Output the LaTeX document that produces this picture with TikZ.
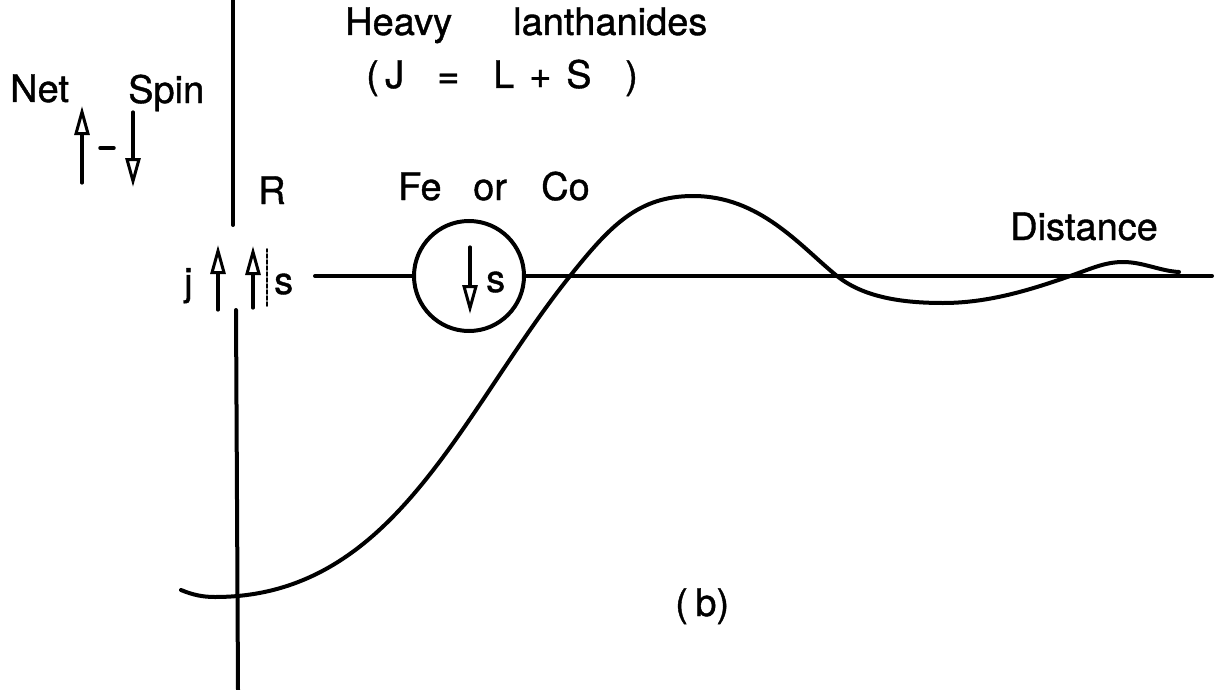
\documentclass[tikz,border=0pt]{standalone}
\usepackage{fontspec}
\setmainfont{TeX Gyre Heros}
\newfontfamily\lettering{TeX Gyre Heros}[FakeBold=1]
\usetikzlibrary{arrows.meta}
\begin{document}
\begin{tikzpicture}[x=1pt,y=-1pt,line cap=round,
  ln/.style={line width=4pt},
  spinarrow/.style={line width=3.2pt,-{Triangle[open,length=29pt,width=15pt,line width=3pt]}},
  lbl/.style={font=\lettering\fontsize{38}{44}\selectfont,inner sep=0pt,anchor=base west}]
\useasboundingbox (0,0) rectangle (1217,690);
% axis
\coordinate (ax1) at (233,0);
\coordinate (ax2) at (233,225);
\coordinate (ax3) at (236,310);
\coordinate (ax4) at (238,690);
\draw[ln] (ax1) -- (ax2);
\draw[ln] (ax3) -- (ax4);
% labels
\node[lbl] (net) at (10,102) {Net};
\node[lbl] (spin) at (128,103) {Spin};
\node[lbl] (heavy) at (345,35) {Heavy};
\node[lbl] (lanth) at (513,35) {lanthanides};
\node[lbl] (lp) at (366,88) {(};
\node[lbl] (J) at (385,88) {J};
\node[lbl] (eq) at (437,88) {=};
\node[lbl] (L) at (493,88) {L};
\node[lbl] (plus) at (529,88) {+};
\node[lbl] (S) at (566,88) {S};
\node[lbl] (rp) at (625,88) {)};
\node[lbl] (R) at (258,204) {R};
\node[lbl] (Fe) at (398,200) {Fe};
\node[lbl] (or) at (473,200) {or};
\node[lbl] (Co) at (541,200) {Co};
\node[lbl,anchor=base east] (dist) at (1158,240) {Distance};
\node[lbl] (b) at (675,616) {(\hspace{0.2em}b)};
\node[lbl] (j) at (184,295) {j};
\node[lbl] (s1) at (274,294) {s};
\node[lbl] (s2) at (486,292) {s};
% net spin arrows
\coordinate (u1) at (82,183);
\coordinate (u2) at (82,106);
\coordinate (d1) at (133,112);
\coordinate (d2) at (133,187);
\coordinate (m1) at (100,148);
\coordinate (m2) at (114,148);
\draw[spinarrow] (u1) -- (u2);
\draw[spinarrow] (d1) -- (d2);
\draw[line width=3.5pt] (m1) -- (m2);
% j and s arrows
\coordinate (ja) at (218,310);
\coordinate (jb) at (218,245);
\coordinate (sa) at (253,308);
\coordinate (sb) at (253,246);
\coordinate (ta) at (267,306);
\coordinate (tb) at (267,249);
\draw[spinarrow] (ja) -- (jb);
\draw[spinarrow] (sa) -- (sb);
\draw[line width=1.8pt,dash pattern=on 4pt off 2pt] (ta) -- (tb);
% circle and line
\node[draw,circle,line width=4pt,minimum size=110pt,inner sep=0pt] (fe) at (469,276) {};
\coordinate (h0) at (315,276);
\coordinate (h1) at (1212,276);
\draw[ln] (h0) -- (fe.west);
\draw[ln] (fe.east) -- (h1);
\coordinate (fa) at (470,247);
\coordinate (fb) at (470,314);
\draw[spinarrow] (fa) -- (fb);
% RKKY curve
\coordinate (c0) at (181,590);
\coordinate (c1) at (215,597);
\coordinate (c2) at (570,276);
\coordinate (c3) at (693,196);
\coordinate (c4) at (837,276);
\coordinate (c5) at (943,303);
\coordinate (c6) at (1073,275);
\coordinate (c7) at (1123,262);
\coordinate (c8) at (1179,272);
\draw[ln,line join=round]
  (c0) .. controls (193,595) and (203,597) .. (c1)
       .. controls (395,597) and (460,413.5) .. (c2)
       .. controls (610,226) and (638,196) .. (c3)
       .. controls (760,196) and (800,246) .. (c4)
       .. controls (862,296) and (898,303) .. (c5)
       .. controls (990,303) and (1033,289) .. (c6)
       .. controls (1091,268.7) and (1105,262) .. (c7)
       .. controls (1143,262) and (1160,271) .. (c8);
\end{tikzpicture}
\end{document}
